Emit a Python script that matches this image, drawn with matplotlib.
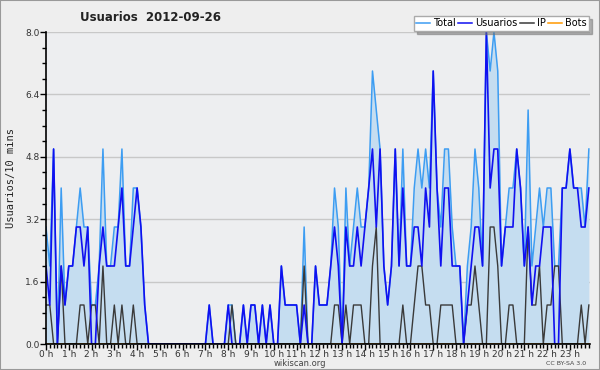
import matplotlib.pyplot as plt
from matplotlib.ticker import MultipleLocator
from matplotlib.patches import Rectangle
from matplotlib.lines import Line2D

# users per 10 minutes on 2012-09-26, 144 slots (one row = 2 hours)
usuarios = [
    2, 1, 5, 0, 2, 1, 2, 2, 3, 3, 2, 3,
    0, 0, 2, 3, 2, 2, 2, 3, 4, 2, 2, 3,
    4, 3, 1, 0, 0, 0, 0, 0, 0, 0, 0, 0,
    0, 0, 0, 0, 0, 0, 0, 1, 0, 0, 0, 0,
    1, 0, 0, 0, 1, 0, 1, 1, 0, 1, 0, 1,
    0, 0, 2, 1, 1, 1, 1, 0, 1, 0, 0, 2,
    1, 1, 1, 2, 3, 2, 0, 3, 2, 2, 3, 2,
    3, 4, 5, 3, 5, 2, 1, 2, 5, 2, 4, 2,
    2, 3, 3, 2, 4, 3, 7, 4, 2, 4, 4, 2,
    2, 2, 0, 1, 2, 3, 3, 2, 8, 4, 5, 5,
    2, 3, 3, 3, 5, 4, 2, 3, 1, 2, 2, 3,
    3, 3, 0, 0, 4, 4, 5, 4, 4, 3, 3, 4,
]
ip = [
    1, 1, 0, 0, 2, 0, 0, 0, 0, 1, 1, 0,
    1, 1, 0, 2, 0, 0, 1, 0, 1, 0, 0, 1,
    0, 0, 0, 0, 0, 0, 0, 0, 0, 0, 0, 0,
    0, 0, 0, 0, 0, 0, 0, 0, 0, 0, 0, 0,
    0, 1, 0, 0, 0, 0, 0, 0, 0, 0, 0, 0,
    0, 0, 0, 0, 0, 0, 0, 0, 2, 0, 0, 0,
    0, 0, 0, 0, 1, 1, 0, 1, 0, 1, 1, 1,
    0, 0, 2, 3, 0, 0, 0, 0, 0, 0, 1, 0,
    0, 1, 2, 2, 1, 1, 0, 0, 1, 1, 1, 1,
    0, 0, 0, 1, 1, 2, 1, 0, 0, 3, 3, 2,
    0, 0, 1, 1, 0, 0, 0, 3, 1, 1, 2, 0,
    1, 1, 2, 2, 0, 0, 0, 0, 0, 1, 0, 1,
]
total = [
    3, 2, 5, 0, 4, 1, 2, 2, 3, 4, 3, 3,
    1, 1, 2, 5, 2, 2, 3, 3, 5, 2, 2, 4,
    4, 3, 1, 0, 0, 0, 0, 0, 0, 0, 0, 0,
    0, 0, 0, 0, 0, 0, 0, 1, 0, 0, 0, 0,
    1, 1, 0, 0, 1, 0, 1, 1, 0, 1, 0, 1,
    0, 0, 2, 1, 1, 1, 1, 0, 3, 0, 0, 2,
    1, 1, 1, 2, 4, 3, 0, 4, 2, 3, 4, 3,
    3, 4, 7, 6, 5, 2, 1, 2, 5, 2, 5, 2,
    2, 4, 5, 4, 5, 4, 7, 4, 3, 5, 5, 3,
    2, 2, 0, 2, 3, 5, 4, 2, 8, 7, 8, 7,
    2, 3, 4, 4, 5, 4, 2, 6, 2, 3, 4, 3,
    4, 4, 2, 2, 4, 4, 5, 4, 4, 4, 3, 5,
]
bots = [0] * 144
hour_labels = ['%d h' % h for h in range(24)]
y_ticks = [0.0, 1.6, 3.2, 4.8, 6.4, 8.0]

slots = list(range(len(total)))

fig = plt.figure(figsize=(6, 3.7), dpi=100, facecolor='#eeeeee')
ax = fig.add_axes([46/600, 1 - 344/370, 544/600, 312/370])
ax.set_facecolor('#edeef0')

ax.fill_between(slots, total, color='#c5ddf0', lw=0, zorder=1)
ax.plot(slots, bots, color='#ff9900', lw=1.1, zorder=1.5)
ax.plot(slots, total, color='#3d9df2', lw=1.1, zorder=2)
ax.plot(slots, usuarios, color='#1010f0', lw=1.2, zorder=2.2)
ax.plot(slots, ip, color='#3a3a3a', lw=1.0, zorder=2.1)

ax.set_xlim(0, 143.3)
ax.set_ylim(0, 8)
ax.set_xticks(range(0, 144, 6))
ax.set_xticklabels(hour_labels)
ax.xaxis.set_minor_locator(MultipleLocator(1))
ax.set_yticks(y_ticks)
ax.set_yticklabels(['%.1f' % v for v in y_ticks])
ax.yaxis.set_minor_locator(MultipleLocator(0.4))
ax.tick_params(axis='both', which='major', length=4, width=1, direction='out',
               labelsize=6.5, colors='black', labelcolor='#333333', pad=0.5)
ax.tick_params(axis='both', which='minor', length=3, width=1, direction='out')
ax.grid(axis='y', color='#c8c8c8', lw=1)
ax.set_axisbelow(True)
for side in ['top', 'right']:
    ax.spines[side].set_visible(False)
for side in ['left', 'bottom']:
    ax.spines[side].set_linewidth(1.2)
    ax.spines[side].set_zorder(3)

fig.text(0.25, 0.953, 'Usuarios  2012-09-26', ha='center', va='center',
         fontsize=8.5, fontweight='bold', color='#222222')
fig.text(0.018, 0.52, 'Usuarios/10 mins', rotation=90, va='center', ha='center',
         family='DejaVu Sans Mono', fontsize=7.5, color='#222222')
fig.text(0.5, 0.017, 'wikiscan.org', ha='center', va='center', fontsize=6, color='#444444')
fig.text(0.943, 0.017, 'CC BY-SA 3.0', ha='center', va='center', fontsize=4.5, color='#444444')

handles = [Line2D([], [], color='#3d9df2', lw=1.1),
           Line2D([], [], color='#1010f0', lw=1.1),
           Line2D([], [], color='#3a3a3a', lw=1.1),
           Line2D([], [], color='#ff9900', lw=1.1)]
fig.legend(handles, ['Total', 'Usuarios', 'IP', 'Bots'], ncol=4, loc='upper right',
           bbox_to_anchor=(589/600, 1 - 16/370), fontsize=7, frameon=True,
           fancybox=False, edgecolor='#aaaaaa', facecolor='white', framealpha=1,
           shadow={'color': '#707070'}, handlelength=1.4, handletextpad=0.3,
           columnspacing=0.3, borderpad=0.25, borderaxespad=0)

fig.patches.append(Rectangle((0, 0), 1, 1, transform=fig.transFigure, fill=False,
                             edgecolor='#999999', lw=1.5))

fig.savefig('out.png', dpi=100, facecolor=fig.get_facecolor())
